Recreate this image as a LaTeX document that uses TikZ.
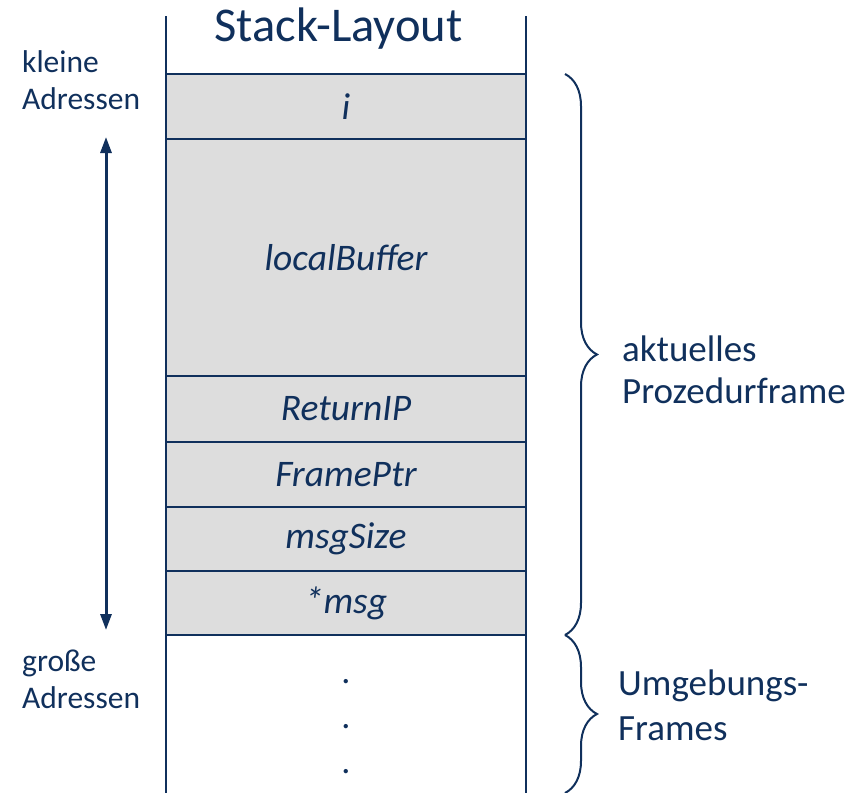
\documentclass[tikz,border=0pt]{standalone}
\usepackage{fontspec}
\setmainfont{Carlito}
\usetikzlibrary{arrows.meta,decorations.pathreplacing}
\definecolor{navy}{HTML}{10305C}
\definecolor{cellgray}{HTML}{DDDDDD}
\tikzset{
  cell/.style={draw=navy, line width=2pt, fill=cellgray, minimum width=360pt,
    inner sep=0pt, text=navy, font=\fontsize{37.5}{42}\selectfont\itshape},
  sidelabel/.style={text=navy, inner sep=0pt, align=left, anchor=base west},
  wall/.style={draw=navy, line width=2pt},
  bracestyle/.style={draw=navy, line width=2pt, decorate,
    decoration={brace, amplitude=32pt}},
  dotmark/.style={text=navy, inner sep=0pt, anchor=base, font=\fontsize{36}{42}\selectfont}
}
\begin{document}
\begin{tikzpicture}[x=1pt,y=-1pt]
  \useasboundingbox (0,0) rectangle (863,793);

  % stack walls
  \coordinate (wlt) at (166,16);
  \coordinate (wlb) at (166,793);
  \coordinate (wrt) at (526,16);
  \coordinate (wrb) at (526,793);

  % title
  \node[text=navy, inner sep=0pt, anchor=base, font=\fontsize{48.5}{52}\selectfont]
    (title) at (338.5,41) {Stack-Layout};

  % stack cells
  \node[cell, minimum height=65pt]  (ci)   at (346,106.5) {i};
  \node[cell, minimum height=237pt] (cbuf) at (346,257.5) {localBuffer};
  \node[cell, minimum height=66pt]  (cret) at (346,409)   {ReturnIP};
  \node[cell, minimum height=65pt]  (cfp)  at (346,474.5) {FramePtr};
  \node[cell, minimum height=64pt]  (csz)  at (346,539)   {msgSize};
  \node[cell, minimum height=64pt]  (cmsg) at (346,603)   {*msg};

  \draw[wall] (wlt) -- (wlb);
  \draw[wall] (wrt) -- (wrb);

  % continuation dots below the current frame
  \node[dotmark] (d1) at (346,683) {.};
  \node[dotmark] (d2) at (346,728) {.};
  \node[dotmark] (d3) at (346,773) {.};

  % address direction (node base = baseline of the last line)
  \node[sidelabel, font=\fontsize{31.5}{37}\selectfont] (small) at (22,109) {kleine\\Adressen};
  \node[sidelabel, font=\fontsize{31.5}{37}\selectfont] (large) at (22,708) {große\\Adressen};
  \coordinate (atop) at (106,137);
  \coordinate (abot) at (106,630);
  \draw[navy, line width=3pt, {Triangle[width=11pt,length=16pt]}-{Triangle[width=11pt,length=16pt]}]
    (atop) -- (abot);

  % braces
  \coordinate (b1t) at (565,74);
  \coordinate (b1b) at (565,635);
  \coordinate (b2b) at (565,793);
  \draw[bracestyle] (b1t) -- (b1b);
  \draw[bracestyle] (b1b) -- (b2b);

  \node[sidelabel, font=\fontsize{37}{42}\selectfont] (cur) at (622,403) {aktuelles\\Prozedurframe};
  \node[sidelabel, font=\fontsize{37}{45}\selectfont] (env) at (618,740) {Umgebungs-\\Frames};
\end{tikzpicture}
\end{document}
